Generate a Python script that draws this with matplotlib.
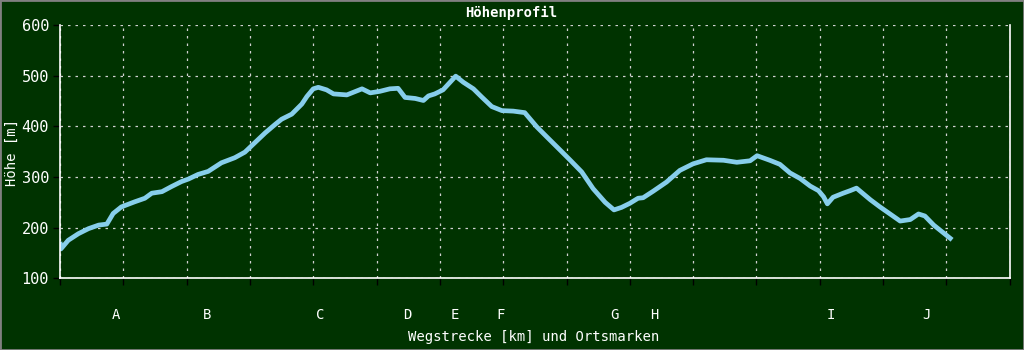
import matplotlib.pyplot as plt
from matplotlib.patches import Rectangle

# Hoehenprofil: distance [km] vs. elevation [m]
dist_km = [0.00, 0.03, 0.26, 0.58, 0.90, 1.22, 1.48, 1.68, 1.94, 2.36,
           2.68, 2.90, 3.22, 3.52, 3.84, 4.06, 4.36, 4.68, 5.10, 5.52,
           5.84, 6.16, 6.48, 6.80, 7.00, 7.32, 7.64, 7.80, 8.00, 8.16,
           8.42, 8.64, 9.06, 9.54, 9.80, 10.10, 10.42, 10.68, 10.90, 11.22,
           11.48, 11.64, 11.84, 12.10, 12.50, 12.74, 13.06, 13.32, 13.64, 13.96,
           14.32, 14.68, 15.06, 15.38, 15.80, 16.12, 16.48, 16.84, 17.22, 17.50,
           17.74, 18.00, 18.26, 18.42, 18.74, 19.16, 19.58, 20.00, 20.42, 20.96,
           21.38, 21.80, 22.02, 22.42, 22.74, 23.06, 23.38, 23.70, 23.96, 24.12,
           24.24, 24.42, 24.74, 24.96, 25.16, 25.60, 25.90, 26.22, 26.54, 26.86,
           27.12, 27.32, 27.60, 27.92, 28.18]
hoehe_m = [172, 158, 175, 188, 198, 205, 207, 228, 241, 251,
           258, 268, 271, 281, 291, 296, 305, 311, 328, 338,
           349, 368, 387, 404, 414, 424, 444, 459, 474, 477,
           472, 464, 462, 474, 466, 469, 474, 475, 457, 455,
           451, 460, 464, 472, 499, 487, 474, 458, 439, 431,
           430, 427, 399, 379, 353, 333, 310, 277, 250, 235,
           240, 248, 258, 259, 272, 290, 313, 326, 334, 333,
           329, 332, 342, 333, 325, 308, 297, 282, 273, 261,
           247, 260, 268, 273, 278, 255, 241, 227, 213, 216,
           227, 223, 205, 189, 176]

# Ortsmarken
orte = ["A", "B", "C", "D", "E", "F", "G", "H", "I", "J"]
orte_km = [1.76, 4.64, 8.22, 10.98, 12.48, 13.92, 17.50, 18.76, 24.34, 27.38]

bg = "#003300"
fig = plt.figure(figsize=(10.24, 3.5), dpi=100, facecolor=bg)
ax = fig.add_axes([60 / 1024, 1 - 278.3 / 350, 949.7 / 1024, 253.3 / 350])
ax.set_facecolor(bg)

ax.plot(dist_km, hoehe_m, color="#87ceeb", lw=3.4, solid_capstyle="butt")

ax.set_xlim(0, 30)
ax.set_ylim(100, 600)
ax.set_xticks(range(0, 31, 2))
ax.set_xticklabels([])
ax.set_yticks(range(100, 601, 100))
ax.grid(True, color="#d0d0d0", ls=(0, (2, 4)), lw=0.9)
ax.tick_params(axis="both", colors="black", length=5, width=1)
ax.tick_params(axis="y", labelcolor="white", labelsize=11, pad=3)
for t in ax.get_yticklabels():
    t.set_family("DejaVu Sans Mono")

ax.spines["top"].set_visible(False)
for s in ["left", "bottom", "right"]:
    ax.spines[s].set_color("white")
    ax.spines[s].set_linewidth(1.2)

for name, km in zip(orte, orte_km):
    ax.text(km, -0.145, name, transform=ax.get_xaxis_transform(), ha="center",
            va="center", color="white", fontsize=10, family="DejaVu Sans Mono")

fig.text(534 / 1024, 1 - 337 / 350, "Wegstrecke [km] und Ortsmarken", ha="center",
         va="center", color="white", fontsize=10, family="DejaVu Sans Mono")
fig.text(12 / 1024, 1 - 152 / 350, "Höhe [m]", rotation=90, ha="center", va="center",
         color="white", fontsize=10, family="DejaVu Sans Mono")
fig.text(511 / 1024, 1 - 13 / 350, "Höhenprofil", ha="center", va="center",
         color="white", fontsize=10, weight="bold", family="DejaVu Sans Mono")

fig.patches.append(Rectangle((0, 0), 1, 1, transform=fig.transFigure, fill=False,
                             edgecolor="#808080", lw=2))

fig.savefig("out.png", dpi=100, facecolor=bg)
